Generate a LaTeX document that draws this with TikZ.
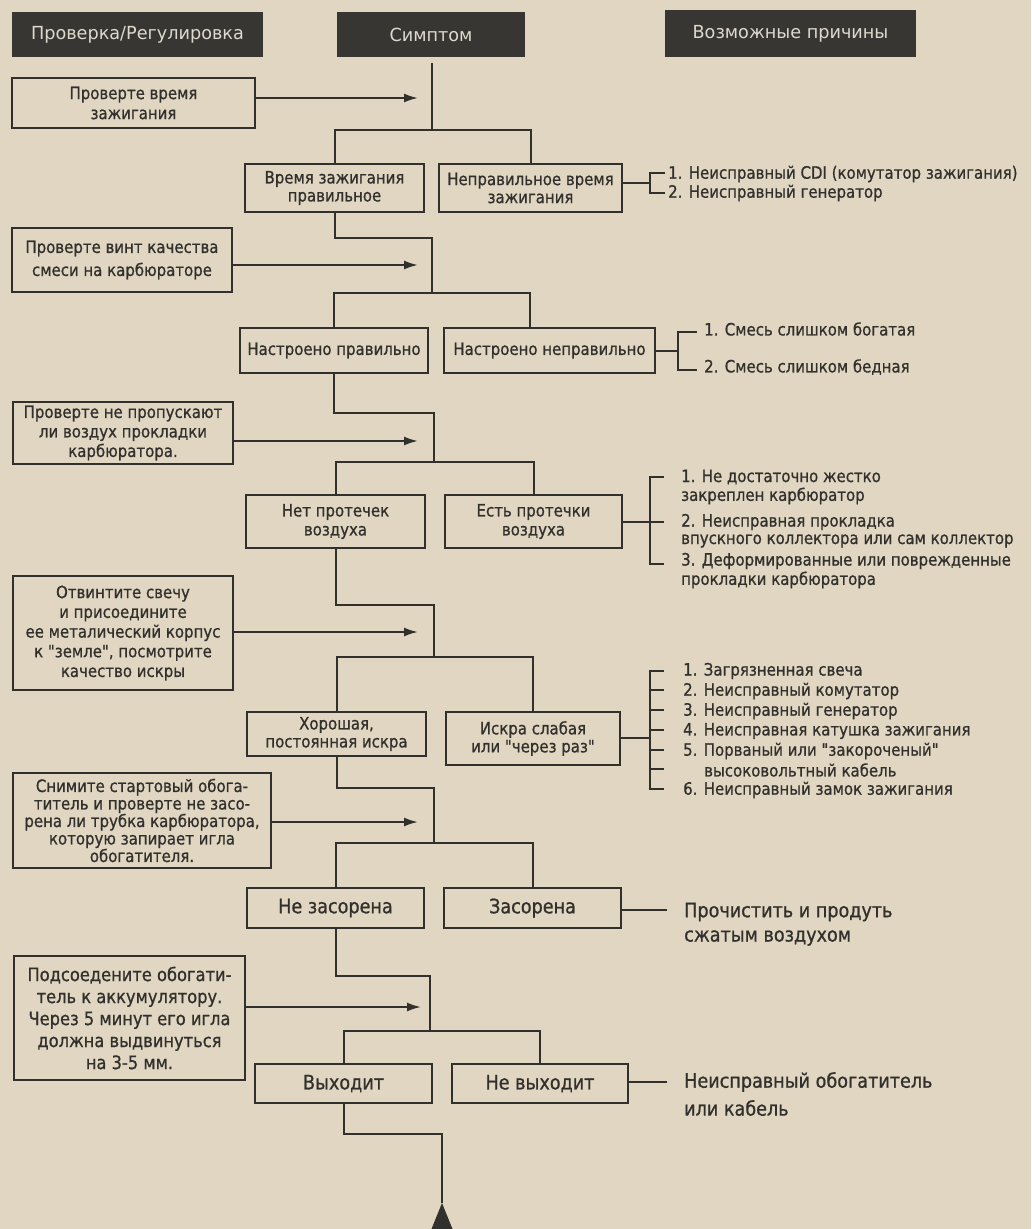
\documentclass[tikz,border=0pt]{standalone}
\usepackage{fontspec}
\setmainfont{DejaVu Sans}[Ligatures=TeXOff, FakeStretch=0.88, FakeBold=0.8]
\newfontfamily\hdrfont{DejaVu Sans}[Ligatures=TeXOff, FakeStretch=0.98]
\usetikzlibrary{arrows.meta}
\definecolor{paper}{RGB}{224,214,194}
\definecolor{ink}{RGB}{50,48,44}
\definecolor{hdr}{RGB}{56,54,50}
\definecolor{hdrtext}{RGB}{222,217,207}
\tikzset{
  hdrbox/.style={fill=hdr, draw=none, text=hdrtext, inner sep=0pt, font=\hdrfont\fontsize{18}{20}\selectfont},
  box/.style={draw=ink, line width=2pt, align=center, inner sep=0pt, text=ink, font=\fontsize{17}{20}\selectfont},
  conn/.style={draw=ink, line width=2pt},
  arr/.style={conn, -{Latex[length=14pt,width=9pt]}},
  rtext/.style={anchor=west, inner sep=0pt, text=ink, font=\fontsize{17}{20}\selectfont},
  btext/.style={anchor=west, inner sep=0pt, text=ink, font=\fontsize{20}{24}\selectfont},
}
\begin{document}
\begin{tikzpicture}[x=1pt,y=-1pt]
\useasboundingbox (0,0) rectangle (1031,1229);
\fill[paper] (0,0) rectangle (1031,1229);

% headers
\node[hdrbox, minimum width=251pt, minimum height=45pt] (h1) at (137.5,34.5) {Проверка/Регулировка};
\node[hdrbox, minimum width=188pt, minimum height=45pt] (h2) at (431,34.5) {Симптом};
\node[hdrbox, minimum width=251pt, minimum height=47pt] (h3) at (790.5,33.5) {Возможные причины};

% check boxes
\node[box, minimum width=243pt, minimum height=50pt] (c1) at (133.5,103) {Проверте время\\зажигания};
\node[box, minimum width=220pt, minimum height=64pt, font=\fontsize{17}{23}\selectfont] (c2) at (122,260) {Проверте винт качества\\смеси на карбюраторе};
\node[box, minimum width=220pt, minimum height=62pt, font=\fontsize{17}{19.5}\selectfont] (c3) at (123,433) {Проверте не пропускают\\ли воздух прокладки\\карбюратора.};
\node[box, minimum width=220pt, minimum height=114pt, font=\fontsize{17}{19.7}\selectfont] (c4) at (123,633) {Отвинтите свечу\\и присоедините\\ее металический корпус\\к "земле", посмотрите\\качество искры};
\node[box, minimum width=258pt, minimum height=95pt, font=\fontsize{17}{17.5}\selectfont] (c5) at (142,820.5) {Снимите стартовый обога-\\титель и проверте не засо-\\рена ли трубка карбюратора,\\которую запирает игла\\обогатителя.};
\node[box, minimum width=231pt, minimum height=124pt, font=\fontsize{18.5}{22}\selectfont] (c6) at (129.5,1018) {Подсоедените обогати-\\тель к аккумулятору.\\Через 5 минут его игла\\должна выдвинуться\\на 3-5 мм.};

% symptom boxes
\node[box, minimum width=179pt, minimum height=48pt, font=\fontsize{17}{18}\selectfont] (a1) at (334.5,188) {Время зажигания\\правильное};
\node[box, minimum width=183pt, minimum height=48pt, font=\fontsize{17}{18}\selectfont] (b1) at (530.5,188) {Неправильное время\\зажигания};
\node[box, minimum width=188pt, minimum height=45pt] (a2) at (334,350.5) {Настроено правильно};
\node[box, minimum width=211pt, minimum height=45pt] (b2) at (549.5,350.5) {Настроено неправильно};
\node[box, minimum width=179pt, minimum height=53pt, font=\fontsize{17}{19}\selectfont] (a3) at (335.5,521.5) {Нет протечек\\воздуха};
\node[box, minimum width=177pt, minimum height=53pt, font=\fontsize{17}{19}\selectfont] (b3) at (533.5,521.5) {Есть протечки\\воздуха};
\node[box, minimum width=179pt, minimum height=44pt, font=\fontsize{17}{18}\selectfont] (a4) at (336.5,734) {Хорошая,\\постоянная искра};
\node[box, minimum width=174pt, minimum height=53pt, font=\fontsize{17}{18}\selectfont] (b4) at (533,738.5) {Искра слабая\\или "через раз"};
\node[box, minimum width=177pt, minimum height=40pt, font=\fontsize{20}{22}\selectfont] (a5) at (335.5,908) {Не засорена};
\node[box, minimum width=177pt, minimum height=40pt, font=\fontsize{20}{22}\selectfont] (b5) at (532.5,908) {Засорена};
\node[box, minimum width=177pt, minimum height=39pt, font=\fontsize{20}{22}\selectfont] (a6) at (343.5,1083.5) {Выходит};
\node[box, minimum width=176pt, minimum height=39pt, font=\fontsize{20}{22}\selectfont] (b6) at (540,1083.5) {Не выходит};

% spine coordinates
\coordinate (top) at (432,63);
\coordinate (j1) at (432,130);
\coordinate (k1) at (432,238);
\coordinate (j2) at (432,293);
\coordinate (d2) at (530,328);
\coordinate (k2) at (434,413);
\coordinate (j3) at (434,462);
\coordinate (k3) at (434,605);
\coordinate (j4) at (434,657);
\coordinate (k4) at (434,788);
\coordinate (j5) at (434,843);
\coordinate (k5) at (430,976);
\coordinate (j6) at (430,1031);
\coordinate (k6) at (442,1134);
\coordinate (apex) at (442,1203);

\draw[conn] (top) -- (j1);
\draw[conn] (a1.north) |- (j1) -| (b1.north);
\draw[conn] (a1.south) |- (k1) -- (j2);
\draw[conn] (a2.north) |- (j2) -| (d2);
\draw[conn] (a2.south) |- (k2) -- (j3);
\draw[conn] (a3.north) |- (j3) -| (b3.north);
\draw[conn] (a3.south) |- (k3) -- (j4);
\draw[conn] (a4.north) |- (j4) -| (b4.north);
\draw[conn] (a4.south) |- (k4) -- (j5);
\draw[conn] (a5.north) |- (j5) -| (b5.north);
\draw[conn] (a5.south) |- (k5) -- (j6);
\draw[conn] (a6.north) |- (j6) -| (b6.north);
\draw[conn] (a6.south) |- (k6) -- (apex);
\begin{scope}
\clip (0,0) rectangle (1031,1229);
\fill[ink] (apex) -- (425,1245) -- (459,1245) -- cycle;
\end{scope}

% arrows from checks
\coordinate (t1) at (418,98);
\coordinate (t2) at (418,265);
\coordinate (t3) at (418,441);
\coordinate (t4) at (418,632);
\coordinate (t5) at (418,822);
\coordinate (t6) at (421,1007);
\draw[arr] (c1.east |- t1) -- (t1);
\draw[arr] (c2.east |- t2) -- (t2);
\draw[arr] (c3.east |- t3) -- (t3);
\draw[arr] (c4.east |- t4) -- (t4);
\draw[arr] (c5.east |- t5) -- (t5);
\draw[arr] (c6.east |- t6) -- (t6);

% bracket 1
\coordinate (m1) at (650,183);
\draw[conn] (m1 -| b1.east) -- (m1);
\draw[conn] (665,173) -- (650,173) -- (650,193) -- (665,193);
\node[rtext] (r11) at (668,174) {1. Неисправный CDI (комутатор зажигания)};
\node[rtext] (r12) at (668,193) {2. Неисправный генератор};

% bracket 2
\coordinate (m2) at (678,351);
\draw[conn] (m2 -| b2.east) -- (m2);
\draw[conn] (697,332) -- (678,332) -- (678,370) -- (697,370);
\node[rtext] (r21) at (704,329) {1. Смесь слишком богатая};
\node[rtext] (r22) at (704,367) {2. Смесь слишком бедная};

% bracket 3
\coordinate (m3) at (650,522);
\draw[conn] (m3 -| b3.east) -- (m3);
\draw[conn] (664,477) -- (650,477) -- (650,564) -- (664,564);
\draw[conn] (m3) -- (664,522);
\node[rtext] (r31) at (681,477) {1. Не достаточно жестко};
\node[rtext] (r31b) at (681,496) {закреплен карбюратор};
\node[rtext] (r32) at (681,522) {2. Неисправная прокладка};
\node[rtext] (r32b) at (681,541) {впускного коллектора или сам коллектор};
\node[rtext] (r33) at (681,561) {3. Деформированные или поврежденные};
\node[rtext] (r33b) at (681,580) {прокладки карбюратора};

% bracket 4
\coordinate (m4) at (650,738);
\draw[conn] (m4 -| b4.east) -- (m4);
\draw[conn] (664,671) -- (650,671) -- (650,789) -- (664,789);
\foreach \yy in {690,710,730,750,769} \draw[conn] (650,\yy) -- (664,\yy);
\node[rtext] (r41) at (683,671) {1. Загрязненная свеча};
\node[rtext] (r42) at (683,691) {2. Неисправный комутатор};
\node[rtext] (r43) at (683,711) {3. Неисправный генератор};
\node[rtext] (r44) at (683,731) {4. Неисправная катушка зажигания};
\node[rtext] (r45) at (683,751) {5. Порваный или "закороченый"};
\node[rtext] (r45b) at (704,770) {высоковольтный кабель};
\node[rtext] (r46) at (683,790) {6. Неисправный замок зажигания};

% bottom results
\coordinate (m5) at (667,910);
\draw[conn] (m5 -| b5.east) -- (m5);
\node[btext] (r51) at (684,912) {Прочистить и продуть};
\node[btext] (r52) at (684,938) {сжатым воздухом};
\coordinate (m6) at (667,1082);
\draw[conn] (m6 -| b6.east) -- (m6);
\node[btext] (r61) at (684,1082) {Неисправный обогатитель};
\node[btext] (r62) at (684,1108) {или кабель};
\end{tikzpicture}
\end{document}
